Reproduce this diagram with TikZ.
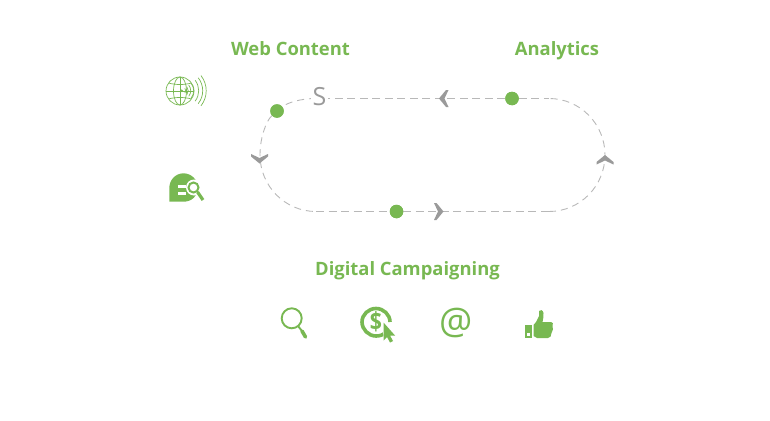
\documentclass[tikz,border=0pt]{standalone}
\usepackage{fontspec}
\setmainfont{Open Sans}
\definecolor{lgreen}{HTML}{78B852}
\definecolor{lgray}{HTML}{B8B8B8}
\definecolor{cgray}{HTML}{9A9A9A}
\tikzset{
  x=1pt,y=-1pt,
  heading/.style={text=lgreen,font=\fontsize{18.4}{22}\selectfont\bfseries,inner sep=0pt,anchor=base},
  dotnode/.style={circle,fill=lgreen,minimum size=13.5pt,inner sep=0pt},
  track/.style={draw=lgray,line width=1.4pt,dash pattern=on 8pt off 4.5pt},
  trackcurve/.style={draw=lgray,line width=0.9pt,dash pattern=on 7pt off 5pt},
  iconline/.style={draw=lgreen,line width=1.8pt},
  thinline/.style={draw=lgreen,line width=0.7pt},
  chev/.pic={\fill[cgray] (5,0) -- (-2,8.5) -- (-4.5,8.5) -- (-0.5,0) -- (-4.5,-8.5) -- (-2,-8.5) -- cycle;}
}
\begin{document}
\begin{tikzpicture}
\useasboundingbox (0,0) rectangle (770,420);
% headings
\node[heading] (web) at (290.5,56) {Web Content};
\node[heading] (ana) at (557,56) {Analytics};
\node[heading] (dig) at (407.5,275) {Digital Campaigning};
% track
\coordinate (tl) at (316,98.5);
\coordinate (tr) at (549,98.5);
\coordinate (br) at (549,211.5);
\coordinate (bl) at (316,211.5);
\node[dotnode] (d1) at (277,111) {};
\node[dotnode] (d2) at (512,98.5) {};
\node[dotnode] (d3) at (396.5,211.5) {};
\draw[track] (d2) -- (tr);
\draw[track] (d2) -- (tl);
\draw[trackcurve] (tl) .. controls (300,98.5) and (287,103) .. (d1);
\draw[trackcurve] (d1) .. controls (266,121) and (260,138) .. (260,155) .. controls (260,186) and (285,211.5) .. (bl);
\draw[track] (bl) -- (d3);
\draw[track] (d3) -- (br);
\draw[trackcurve] (br) .. controls (580,211.5) and (605,186) .. (605,155) .. controls (605,124) and (580,98.5) .. (tr);
\node[dotnode] at (d1) {};
\node[dotnode] at (d2) {};
\node[dotnode] at (d3) {};
% arrowheads
\pic[rotate=180] at (444,98.5) {chev};
\pic at (438.5,211.5) {chev};
\pic[rotate=-90] at (259.5,158.5) {chev};
\pic[rotate=90] at (605,160) {chev};
\fill[white] (311,86) rectangle (328,110);
\node[text=cgray,font=\fontsize{25}{28}\selectfont,inner sep=0pt] (s) at (319.5,97) {S};
% globe icon
\begin{scope}[thinline]
\draw (180,91) circle (14);
\draw (180,91) ellipse (6.5 and 14);
\draw (166,91) -- (194,91);
\draw (180,77) -- (180,105);
\draw (168.5,83) .. controls (175,85) and (185,85) .. (191.5,83);
\draw (168.5,99) .. controls (175,97) and (185,97) .. (191.5,99);
\fill[lgreen,draw=none] (181.7,90.7) circle (1.4);
\foreach \r in {4,6.5,9,12,17,21,24.5}
  \draw ([shift={(181.7,90.7)}]-38:\r) arc (-38:38:\r);
\end{scope}
% bubble icon
\fill[lgreen] (169.3,201.7) -- (169.3,188) .. controls (169.3,180) and (175.5,173.3) .. (183.5,173.3) .. controls (191.5,173.3) and (198,180) .. (198,188) .. controls (198,196) and (191.5,201.7) .. (183.5,201.7) -- cycle;
\fill[white] (178,184.5) rectangle (186,187.5);
\fill[white] (178,191.5) rectangle (186,194.5);
\fill[white] (194,187.5) circle (8);
\draw[white,line width=5pt] (198,193) -- (203,201);
\draw[iconline,line width=2pt] (193.5,187.5) circle (5);
\draw[lgreen,line width=3.2pt] (197.5,192) -- (203,200);
% magnifier
\draw[iconline,line width=1.9pt] (291.7,318.3) circle (10);
\draw[lgreen,line width=1.9pt] (298,326) -- (302,331);
\draw[lgreen,line width=3.6pt,line cap=round] (302,331) -- (305.5,337);
% dollar click
\draw[lgreen,line width=3.6pt] (386,332) .. controls (383,335) and (380,336) .. (376,336) .. controls (368.5,336) and (362,329.5) .. (362,322) .. controls (362,314.5) and (368.5,308.5) .. (376,308.5) .. controls (383.5,308.5) and (390,314.5) .. (390,322);
\node[text=lgreen,font=\fontsize{25}{27}\selectfont\bfseries,inner sep=0pt,xscale=.85] (dollar) at (376,322) {\$};
\fill[white] (381,319) -- (398,335) -- (393,343) -- (385,346) -- cycle;
\fill[lgreen] (383.5,322.5) -- (395,335.5) -- (390,335.5) -- (393,341) -- (390,342.5) -- (387,337) -- (383.5,340.5) -- cycle;
% at sign
\node[text=lgreen,font=\fontsize{37}{39}\selectfont,inner sep=0pt] (at) at (456,323) {@};
% thumb
\fill[lgreen] (524.5,325) rectangle (532,338);
\fill[white] (526.5,333) rectangle (529.5,336);
\fill[lgreen] (533.5,325) -- (536,322) -- (539,316) -- (539,311) .. controls (540,309) and (543,310) .. (543.5,313) .. controls (544,316) and (543,319) .. (542.5,322) -- (551,322) .. controls (553,322) and (553.5,324) .. (552.5,326) .. controls (553.5,328) and (553,331) .. (551.5,333) .. controls (551.5,336) and (550,338) .. (548,338) -- (537,338) -- (533.5,336) -- cycle;
\end{tikzpicture}
\end{document}
